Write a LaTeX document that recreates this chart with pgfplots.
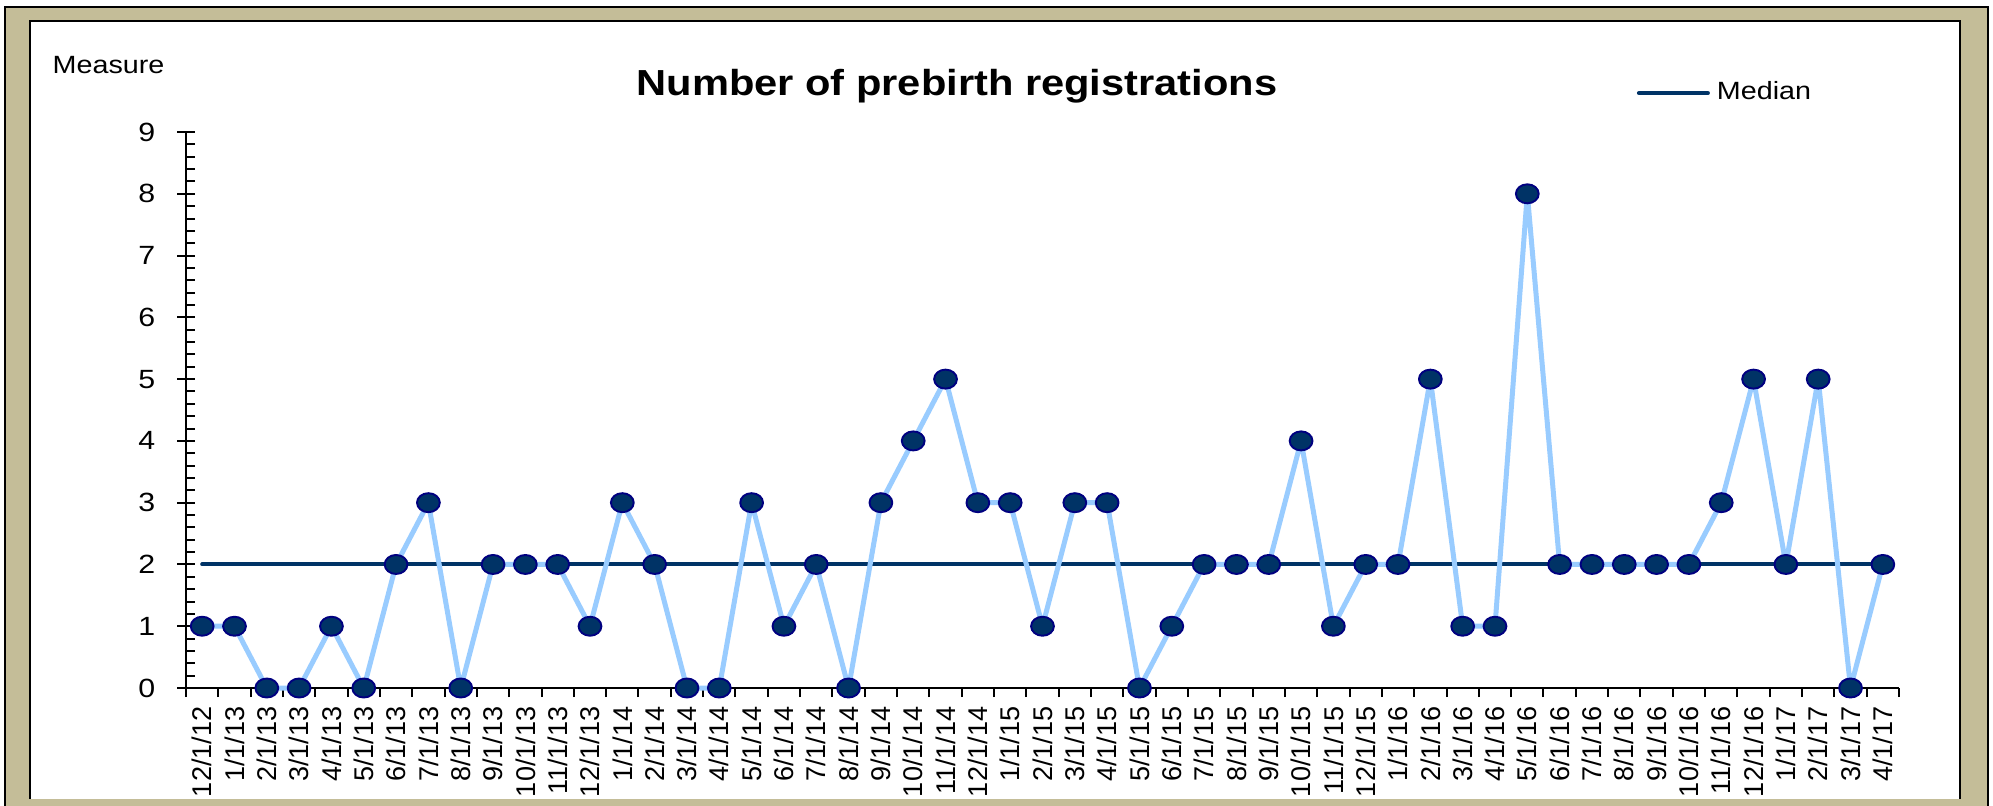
\documentclass[border=0pt]{standalone}
\usepackage{fontspec}
\setmainfont{Liberation Sans}[FakeStretch=1.15]
\newfontfamily\plainfont{Liberation Sans}
\usepackage{pgfplots}
\pgfplotsset{compat=1.18}
\definecolor{frametan}{RGB}{196,189,152}
\definecolor{navy}{RGB}{0,51,102}
\definecolor{markedge}{RGB}{0,0,128}
\definecolor{lightline}{RGB}{153,204,255}
\begin{document}
\begin{tikzpicture}
\useasboundingbox (0,0) rectangle (199.3mm,80.5mm);
\fill[frametan] (0.5mm,-1mm) rectangle (198.8mm,79.8mm);
\draw[black, line width=0.2mm] (0.5mm,-1mm) rectangle (198.8mm,79.8mm);
\fill[white] (3.0mm,0.6mm) rectangle (196.0mm,78.4mm);
\draw[black, line width=0.25mm] (3.0mm,0.6mm) -- (3.0mm,78.4mm) -- (196.0mm,78.4mm) -- (196.0mm,0.6mm);
\node[anchor=base west, inner sep=0pt, font=\fontsize{7.1}{8.5}\selectfont] at (5.2mm,73.1mm) {Measure};
\node[anchor=base, inner sep=0pt, font=\fontsize{10.3}{12}\selectfont\bfseries] at (95.7mm,70.9mm) {Number of prebirth registrations};
\begin{axis}[
  at={(18.6mm,11.7mm)}, anchor=south west,
  scale only axis, width=171.3mm, height=55.6mm,
  xmin=-0.5, xmax=52.5, ymin=0, ymax=9,
  axis x line*=bottom, axis y line*=left,
  axis line style={line width=0.2mm, -},
  clip=false,
  tick align=inside,
  major tick length=1.8mm, minor tick length=0.9mm,
  every tick/.style={black, line width=0.2mm},
  major y tick style={xshift=-0.9mm},
  major x tick style={draw=none},
  minor x tick style={yshift=-0.9mm},
  ytick={0,...,9}, minor y tick num=4,
  xtick={0,...,52},
  minor xtick={-0.5,0.5,...,52.5},
  xticklabels={12/1/12,1/1/13,2/1/13,3/1/13,4/1/13,5/1/13,6/1/13,7/1/13,8/1/13,9/1/13,10/1/13,11/1/13,12/1/13,1/1/14,2/1/14,3/1/14,4/1/14,5/1/14,6/1/14,7/1/14,8/1/14,9/1/14,10/1/14,11/1/14,12/1/14,1/1/15,2/1/15,3/1/15,4/1/15,5/1/15,6/1/15,7/1/15,8/1/15,9/1/15,10/1/15,11/1/15,12/1/15,1/1/16,2/1/16,3/1/16,4/1/16,5/1/16,6/1/16,7/1/16,8/1/16,9/1/16,10/1/16,11/1/16,12/1/16,1/1/17,2/1/17,3/1/17,4/1/17},
  x tick label style={rotate=90, anchor=east, inner sep=0pt, font=\plainfont\fontsize{7.7}{8}\selectfont},
  xticklabel shift=1.8mm,
  y tick label style={inner sep=0pt, font=\fontsize{7.5}{8}\selectfont},
  yticklabel shift=3.0mm,
  /pgf/number format/assume math mode=true,
  legend style={at={(rel axis cs:0.847,1.070)}, anchor=west, draw=none, fill=none, inner sep=0pt, outer sep=0pt, font=\fontsize{7.1}{8.5}\selectfont, /tikz/every even column/.append style={column sep=1mm}},
  legend cell align=left,
  legend image code/.code={\draw[#1] (0mm,0mm) -- (6.9mm,0mm);},
]
\addplot[navy, line width=0.4mm, line cap=round] coordinates {(0,2) (52,2)};
\addlegendentry{Median}
\addplot[lightline, line width=0.5mm, line join=round, mark=*, mark size=0.95mm,
  mark options={xscale=1.2, fill=navy, draw=markedge, line width=0.55pt}, forget plot]
  coordinates {
(0,1) (1,1) (2,0) (3,0) (4,1) (5,0) (6,2) (7,3) (8,0) (9,2) (10,2) (11,2) (12,1)
(13,3) (14,2) (15,0) (16,0) (17,3) (18,1) (19,2) (20,0) (21,3) (22,4) (23,5) (24,3)
(25,3) (26,1) (27,3) (28,3) (29,0) (30,1) (31,2) (32,2) (33,2) (34,4) (35,1) (36,2)
(37,2) (38,5) (39,1) (40,1) (41,8) (42,2) (43,2) (44,2) (45,2) (46,2) (47,3) (48,5)
(49,2) (50,5) (51,0) (52,2)
};
\end{axis}
\end{tikzpicture}
\end{document}
